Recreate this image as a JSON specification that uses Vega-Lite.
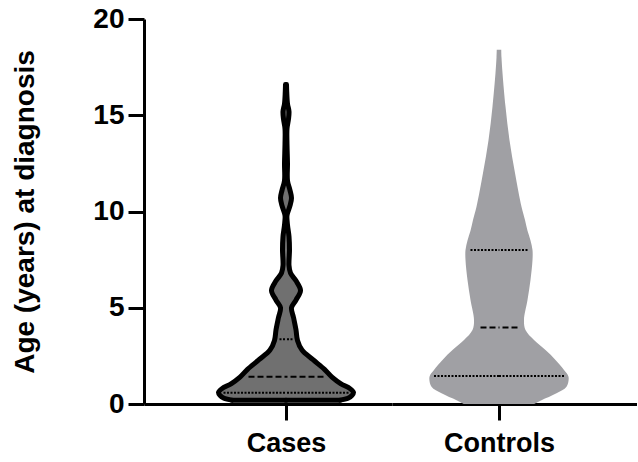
{
  "$schema": "https://vega.github.io/schema/vega-lite/v6.json",
  "padding": {"left": 11, "top": 5, "right": 0, "bottom": 0},
  "config": {
    "view": {"stroke": null},
    "font": "Liberation Sans",
    "axis": {
      "grid": false,
      "domainWidth": 3,
      "domainColor": "black",
      "tickWidth": 3,
      "tickColor": "black",
      "labelFont": "Liberation Sans",
      "labelFontWeight": "bold",
      "labelColor": "black",
      "titleFont": "Liberation Sans",
      "titleFontWeight": "bold",
      "titleColor": "black"
    },
    "axisX": {"tickSize": 16, "labelFontSize": 27, "labelPadding": 10},
    "axisY": {"tickSize": 16, "labelFontSize": 28, "labelPadding": 4, "titleFontSize": 28, "titlePadding": 53}
  },
  "datasets": {
    "ages": [
      {"group": "Cases", "kind": "outline", "age": 0.2, "density": 1.08},
      {"group": "Cases", "kind": "outline", "age": 0.3, "density": 1.24},
      {"group": "Cases", "kind": "outline", "age": 0.45, "density": 1.32},
      {"group": "Cases", "kind": "outline", "age": 0.6, "density": 1.35},
      {"group": "Cases", "kind": "outline", "age": 0.8, "density": 1.28},
      {"group": "Cases", "kind": "outline", "age": 1.05, "density": 1.1},
      {"group": "Cases", "kind": "outline", "age": 1.4, "density": 0.92},
      {"group": "Cases", "kind": "outline", "age": 1.8, "density": 0.77},
      {"group": "Cases", "kind": "outline", "age": 2.3, "density": 0.54},
      {"group": "Cases", "kind": "outline", "age": 2.8, "density": 0.32},
      {"group": "Cases", "kind": "outline", "age": 3.3, "density": 0.23},
      {"group": "Cases", "kind": "outline", "age": 3.85, "density": 0.2},
      {"group": "Cases", "kind": "outline", "age": 4.5, "density": 0.15},
      {"group": "Cases", "kind": "outline", "age": 5.0, "density": 0.11},
      {"group": "Cases", "kind": "outline", "age": 5.4, "density": 0.2},
      {"group": "Cases", "kind": "outline", "age": 5.9, "density": 0.29},
      {"group": "Cases", "kind": "outline", "age": 6.4, "density": 0.2},
      {"group": "Cases", "kind": "outline", "age": 6.8, "density": 0.09},
      {"group": "Cases", "kind": "outline", "age": 7.2, "density": 0.06},
      {"group": "Cases", "kind": "outline", "age": 8.0, "density": 0.07},
      {"group": "Cases", "kind": "outline", "age": 8.7, "density": 0.06},
      {"group": "Cases", "kind": "outline", "age": 9.3, "density": 0.03},
      {"group": "Cases", "kind": "outline", "age": 9.8, "density": 0.02},
      {"group": "Cases", "kind": "outline", "age": 10.3, "density": 0.08},
      {"group": "Cases", "kind": "outline", "age": 10.7, "density": 0.11},
      {"group": "Cases", "kind": "outline", "age": 11.1, "density": 0.08},
      {"group": "Cases", "kind": "outline", "age": 11.6, "density": 0.03},
      {"group": "Cases", "kind": "outline", "age": 12.5, "density": 0.03},
      {"group": "Cases", "kind": "outline", "age": 13.5, "density": 0.02},
      {"group": "Cases", "kind": "outline", "age": 14.3, "density": 0.02},
      {"group": "Cases", "kind": "outline", "age": 14.8, "density": 0.05},
      {"group": "Cases", "kind": "outline", "age": 15.2, "density": 0.06},
      {"group": "Cases", "kind": "outline", "age": 15.6, "density": 0.03},
      {"group": "Cases", "kind": "outline", "age": 16.2, "density": 0.015},
      {"group": "Cases", "kind": "outline", "age": 16.6, "density": 0.01},
      {"group": "Cases", "kind": "quartile", "age": 0.59, "density": 1.25},
      {"group": "Cases", "kind": "median", "age": 1.42, "density": 0.75},
      {"group": "Cases", "kind": "quartile", "age": 3.36, "density": 0.13},
      {"group": "Controls", "kind": "outline", "age": 0.0, "density": 0.7},
      {"group": "Controls", "kind": "outline", "age": 0.2, "density": 0.85},
      {"group": "Controls", "kind": "outline", "age": 0.56, "density": 1.15},
      {"group": "Controls", "kind": "outline", "age": 0.9, "density": 1.35},
      {"group": "Controls", "kind": "outline", "age": 1.42, "density": 1.39},
      {"group": "Controls", "kind": "outline", "age": 1.77, "density": 1.3},
      {"group": "Controls", "kind": "outline", "age": 2.29, "density": 1.13},
      {"group": "Controls", "kind": "outline", "age": 2.8, "density": 0.93},
      {"group": "Controls", "kind": "outline", "age": 3.32, "density": 0.7},
      {"group": "Controls", "kind": "outline", "age": 3.84, "density": 0.53},
      {"group": "Controls", "kind": "outline", "age": 4.36, "density": 0.5},
      {"group": "Controls", "kind": "outline", "age": 5.4, "density": 0.57},
      {"group": "Controls", "kind": "outline", "age": 6.44, "density": 0.63},
      {"group": "Controls", "kind": "outline", "age": 7.48, "density": 0.67},
      {"group": "Controls", "kind": "outline", "age": 8.0, "density": 0.67},
      {"group": "Controls", "kind": "outline", "age": 8.5, "density": 0.63},
      {"group": "Controls", "kind": "outline", "age": 9.0, "density": 0.57},
      {"group": "Controls", "kind": "outline", "age": 9.56, "density": 0.52},
      {"group": "Controls", "kind": "outline", "age": 10.25, "density": 0.45},
      {"group": "Controls", "kind": "outline", "age": 12.0, "density": 0.32},
      {"group": "Controls", "kind": "outline", "age": 13.7, "density": 0.21},
      {"group": "Controls", "kind": "outline", "age": 15.45, "density": 0.13},
      {"group": "Controls", "kind": "outline", "age": 17.2, "density": 0.07},
      {"group": "Controls", "kind": "outline", "age": 18.0, "density": 0.05},
      {"group": "Controls", "kind": "outline", "age": 18.4, "density": 0.045},
      {"group": "Controls", "kind": "quartile", "age": 1.45, "density": 1.3},
      {"group": "Controls", "kind": "median", "age": 3.98, "density": 0.37},
      {"group": "Controls", "kind": "quartile", "age": 8.0, "density": 0.57}
    ]
  },
  "data": {"name": "ages"},
  "spacing": 0,
  "hconcat": [
    {
      "width": 248,
      "height": 385,
      "transform": [{"filter": "datum.group === 'Cases'"}],
      "encoding": {
        "y": {
          "field": "age",
          "type": "quantitative",
          "scale": {"domain": [0, 20]},
          "title": "Age (years) at diagnosis",
          "axis": {"values": [0, 5, 10, 15, 20]}
        }
      },
      "layer": [
        {
          "transform": [{"filter": "datum.kind === 'outline'"}],
          "mark": {"type": "area", "orient": "horizontal", "interpolate": "catmull-rom", "fill": "#707070"},
          "encoding": {
            "x": {
              "field": "density", "type": "quantitative", "stack": null, "impute": null,
              "title": null,
              "scale": {"domain": [-2.84, 2.12]},
              "axis": {"values": [0], "labelExpr": "'Cases'"}
            }
          }
        },
        {
          "transform": [{"filter": "datum.kind === 'outline'"}],
          "mark": {"type": "area", "orient": "horizontal", "interpolate": "catmull-rom", "fill": "#707070"},
          "encoding": {
            "x": {
              "field": "density", "type": "quantitative", "stack": null, "impute": null,
              "scale": {"domain": [-2.12, 2.84], "reverse": true},
              "axis": null
            }
          }
        },
        {
          "transform": [{"filter": "datum.kind === 'outline'"}],
          "mark": {"type": "line", "interpolate": "catmull-rom", "color": "black", "strokeWidth": 5, "strokeCap": "round", "strokeJoin": "round"},
          "encoding": {
            "x": {"field": "density", "type": "quantitative", "scale": {"domain": [-2.84, 2.12]}, "axis": null},
            "order": {"field": "age"}
          }
        },
        {
          "transform": [{"filter": "datum.kind === 'outline'"}],
          "mark": {"type": "line", "interpolate": "catmull-rom", "color": "black", "strokeWidth": 5, "strokeCap": "round", "strokeJoin": "round"},
          "encoding": {
            "x": {"field": "density", "type": "quantitative", "scale": {"domain": [-2.12, 2.84], "reverse": true}, "axis": null},
            "order": {"field": "age"}
          }
        },
        {
          "transform": [
            {"filter": "datum.kind === 'outline'"},
            {"joinaggregate": [{"op": "min", "field": "age", "as": "lowest"}]},
            {"filter": "datum.age === datum.lowest"}
          ],
          "mark": {"type": "rule", "color": "black", "strokeWidth": 5, "strokeCap": "round"},
          "encoding": {
            "x": {"field": "density", "type": "quantitative", "scale": {"domain": [-2.84, 2.12]}, "axis": null},
            "x2": {"datum": 0}
          }
        },
        {
          "transform": [
            {"filter": "datum.kind === 'outline'"},
            {"joinaggregate": [{"op": "min", "field": "age", "as": "lowest"}]},
            {"filter": "datum.age === datum.lowest"}
          ],
          "mark": {"type": "rule", "color": "black", "strokeWidth": 5, "strokeCap": "round"},
          "encoding": {
            "x": {"field": "density", "type": "quantitative", "scale": {"domain": [-2.12, 2.84], "reverse": true}, "axis": null},
            "x2": {"datum": 0}
          }
        },
        {
          "transform": [{"filter": "datum.kind !== 'outline'"}],
          "mark": {"type": "rule", "color": "black", "strokeWidth": 2},
          "encoding": {
            "x": {"field": "density", "type": "quantitative", "scale": {"domain": [-2.84, 2.12]}, "axis": null},
            "x2": {"datum": 0},
            "strokeDash": {
              "field": "kind", "type": "nominal",
              "scale": {"domain": ["median", "quartile"], "range": [[6, 3], [2, 1.5]]},
              "legend": null
            }
          }
        },
        {
          "transform": [{"filter": "datum.kind !== 'outline'"}],
          "mark": {"type": "rule", "color": "black", "strokeWidth": 2},
          "encoding": {
            "x": {"field": "density", "type": "quantitative", "scale": {"domain": [-2.12, 2.84], "reverse": true}, "axis": null},
            "x2": {"datum": 0},
            "strokeDash": {
              "field": "kind", "type": "nominal",
              "scale": {"domain": ["median", "quartile"], "range": [[6, 3], [2, 1.5]]},
              "legend": null
            }
          }
        }
      ],
      "resolve": {"scale": {"x": "independent"}}
    },
    {
      "width": 245,
      "height": 385,
      "transform": [{"filter": "datum.group === 'Controls'"}],
      "encoding": {
        "y": {"field": "age", "type": "quantitative", "scale": {"domain": [0, 20]}, "axis": null}
      },
      "layer": [
        {
          "transform": [{"filter": "datum.kind === 'outline'"}],
          "mark": {"type": "area", "orient": "horizontal", "interpolate": "catmull-rom", "fill": "#a0a0a4"},
          "encoding": {
            "x": {
              "field": "density", "type": "quantitative", "stack": null, "impute": null,
              "title": null,
              "scale": {"domain": [-2.14, 2.76]},
              "axis": {"values": [0], "labelExpr": "'Controls'"}
            }
          }
        },
        {
          "transform": [{"filter": "datum.kind === 'outline'"}],
          "mark": {"type": "area", "orient": "horizontal", "interpolate": "catmull-rom", "fill": "#a0a0a4"},
          "encoding": {
            "x": {
              "field": "density", "type": "quantitative", "stack": null, "impute": null,
              "scale": {"domain": [-2.76, 2.14], "reverse": true},
              "axis": null
            }
          }
        },
        {
          "transform": [{"filter": "datum.kind !== 'outline'"}],
          "mark": {"type": "rule", "color": "black", "strokeWidth": 2},
          "encoding": {
            "x": {"field": "density", "type": "quantitative", "scale": {"domain": [-2.14, 2.76]}, "axis": null},
            "x2": {"datum": 0},
            "strokeDash": {
              "field": "kind", "type": "nominal",
              "scale": {"domain": ["median", "quartile"], "range": [[6, 3], [2, 1.5]]},
              "legend": null
            }
          }
        },
        {
          "transform": [{"filter": "datum.kind !== 'outline'"}],
          "mark": {"type": "rule", "color": "black", "strokeWidth": 2},
          "encoding": {
            "x": {"field": "density", "type": "quantitative", "scale": {"domain": [-2.76, 2.14], "reverse": true}, "axis": null},
            "x2": {"datum": 0},
            "strokeDash": {
              "field": "kind", "type": "nominal",
              "scale": {"domain": ["median", "quartile"], "range": [[6, 3], [2, 1.5]]},
              "legend": null
            }
          }
        }
      ],
      "resolve": {"scale": {"x": "independent"}}
    }
  ]
}
